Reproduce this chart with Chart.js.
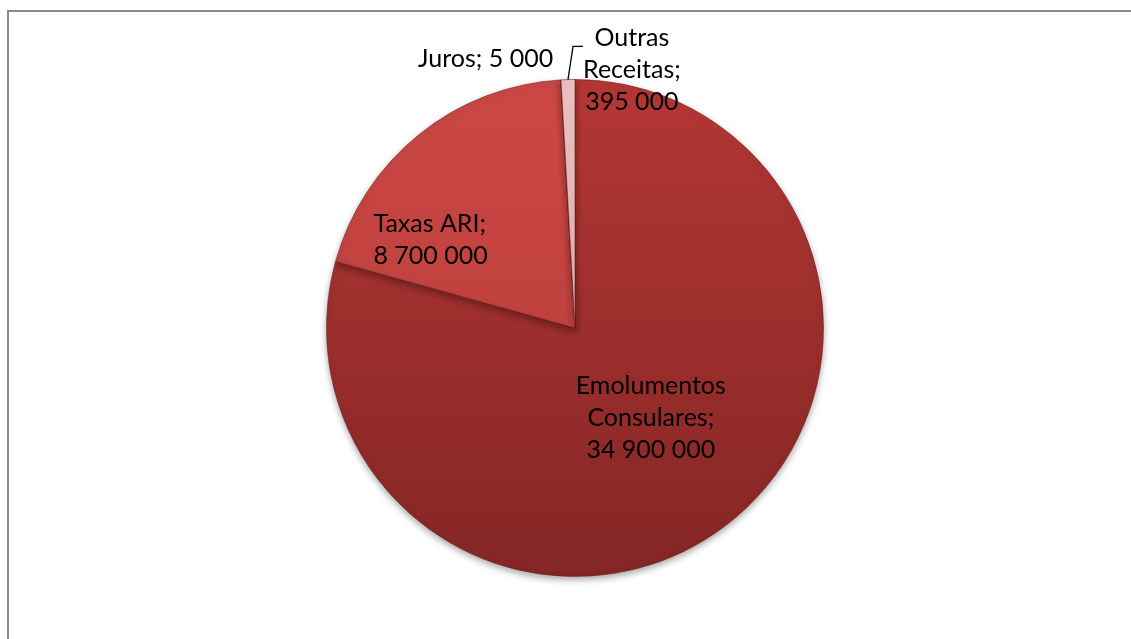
<!DOCTYPE html>
<html>
<head>
<meta charset="utf-8">
<script src="https://cdn.jsdelivr.net/npm/chart.js@4.4.1/dist/chart.umd.min.js"></script>
<style>
body { margin: 0; background: #fff; }
#wrap { position: relative; width: 1131px; height: 639px; overflow: hidden; }
#frame { position: absolute; left: 7px; top: 10px; width: 1200px; height: 700px;
         border-left: 2px solid #8c8c8c; border-top: 2px solid #8c8c8c; }
canvas { position: absolute; left: 0; top: 0; }
</style>
</head>
<body>
<div id="wrap">
    <div id="frame"></div>
    <canvas id="receitasChart" width="1131" height="639"></canvas>
</div>
<script>
// Receitas data
const categories = ['Emolumentos Consulares', 'Taxas ARI', 'Juros', 'Outras Receitas'];
const values = [34900000, 8700000, 5000, 395000];

// top / bottom colour of each slice gradient
const topColors = ['#b43735', '#cc4845', '#c9605d', '#ecc3c2'];
const bottomColors = ['#842624', '#b33a37', '#b34a47', '#dca6a5'];

// label placement, in radius units from the pie centre
const labelLayout = [
    { mode: 'wrap', dx: 0.305, dy: 0.361, align: 'center' },
    { mode: 'line', dx: -0.811, dy: -0.353, align: 'left' },
    { mode: 'inline', dx: -0.088, dy: -1.084, align: 'right' },
    { mode: 'wrap', dx: 0.229, dy: -1.04, align: 'center', leader: [[-0.008, -1.133], [0.032, -1.133]] }
];

function fmt(v) {
    return String(v).replace(/\B(?=(\d{3})+(?!\d))/g, ' ');
}

function labelLines(i) {
    const name = categories[i], val = fmt(values[i]);
    const mode = labelLayout[i].mode;
    if (mode === 'inline') return [name + '; ' + val];
    if (mode === 'line') return [name + ';', val];
    const words = name.split(' ');
    words[words.length - 1] += ';';
    return words.concat([val]);
}

function sliceFill(context) {
    const chart = context.chart;
    const area = chart.chartArea;
    const i = context.dataIndex;
    if (!area) return topColors[i];
    const g = chart.ctx.createLinearGradient(0, area.top, 0, area.bottom);
    g.addColorStop(0, topColors[i]);
    g.addColorStop(1, bottomColors[i]);
    return g;
}

const shadowPlugin = {
    id: 'pieShadow',
    beforeDatasetDraw(chart) {
        const ctx = chart.ctx;
        ctx.save();
        ctx.shadowColor = 'rgba(0,0,0,0.35)';
        ctx.shadowBlur = 7;
        ctx.shadowOffsetY = 3;
    },
    afterDatasetDraw(chart) {
        chart.ctx.restore();
    }
};

const labelPlugin = {
    id: 'sliceLabels',
    afterDatasetsDraw(chart) {
        const ctx = chart.ctx;
        const arcs = chart.getDatasetMeta(0).data;
        const cx = arcs[0].x, cy = arcs[0].y, r = arcs[0].outerRadius;
        ctx.save();
        ctx.font = '25px Lato';
        ctx.fillStyle = '#000';
        ctx.textBaseline = 'middle';
        const lineH = 32;
        labelLayout.forEach((lay, i) => {
            const lines = labelLines(i);
            const x = cx + lay.dx * r;
            const y0 = cy + lay.dy * r - (lines.length - 1) * lineH / 2;
            ctx.textAlign = lay.align;
            lines.forEach((t, k) => ctx.fillText(t, x, y0 + k * lineH));
            if (lay.leader) {
                const a = arcs[i];
                const mid = (a.startAngle + a.endAngle) / 2;
                ctx.beginPath();
                ctx.moveTo(cx + Math.cos(mid) * r, cy + Math.sin(mid) * r);
                lay.leader.forEach(p => ctx.lineTo(cx + p[0] * r, cy + p[1] * r));
                ctx.strokeStyle = '#000';
                ctx.lineWidth = 1.3;
                ctx.stroke();
            }
        });
        ctx.restore();
    }
};

const ctx = document.getElementById('receitasChart').getContext('2d');
const receitasChart = new Chart(ctx, {
    type: 'pie',
    data: {
        labels: categories,
        datasets: [{
            data: values,
            backgroundColor: sliceFill,
            borderColor: 'rgba(110,25,25,0.55)',
            borderWidth: 1
        }]
    },
    options: {
        responsive: false,
        animation: false,
        layout: { padding: { left: 20, right: 1, top: 79, bottom: 62 } },
        plugins: {
            legend: { display: false },
            tooltip: { enabled: false }
        }
    },
    plugins: [shadowPlugin, labelPlugin]
});
</script>
</body>
</html>
